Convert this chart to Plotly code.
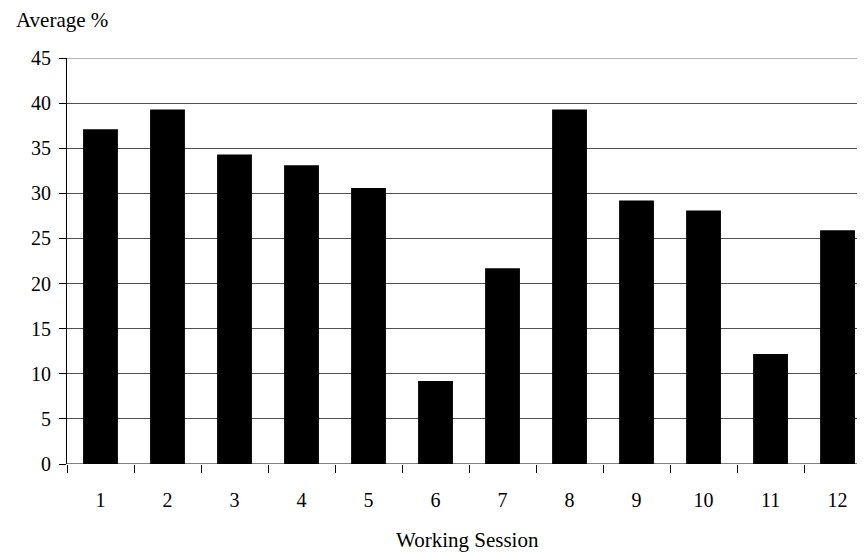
import plotly.graph_objects as go

sessions = ["1", "2", "3", "4", "5", "6", "7", "8", "9", "10", "11", "12"]
average_pct = [37.1, 39.3, 34.3, 33.1, 30.6, 9.2, 21.7, 39.3, 29.2, 28.1, 12.2, 25.9]
y_ticks = [0, 5, 10, 15, 20, 25, 30, 35, 40, 45]

FONT = "Liberation Serif, Times New Roman, serif"

fig = go.Figure()
fig.add_trace(go.Bar(
    x=sessions, y=average_pct,
    marker=dict(color="black", line=dict(width=0)),
    width=0.52,
))

# page body has an 8px default margin: compensate so the plot area sits at x 67..865, y 58..464
fig.update_layout(
    width=857, height=545,
    margin=dict(l=59, r=0, t=50, b=89),
    paper_bgcolor="white", plot_bgcolor="white",
    showlegend=False,
    font=dict(family=FONT, color="black", size=20),
    xaxis=dict(
        type="category",
        range=[-0.5, 11.41],
        tickson="boundaries",
        ticks="outside", ticklen=8, tickcolor="black", tickwidth=1,
        showgrid=False, showline=False, zeroline=False,
        ticklabelstandoff=22,
        tickfont=dict(family=FONT, size=20),
    ),
    yaxis=dict(
        range=[0, 45],
        tickvals=y_ticks,
        ticks="outside", ticklen=7, tickcolor="black", tickwidth=1,
        showgrid=True, gridcolor="#505050", gridwidth=1,
        showline=True, linecolor="black", linewidth=1,
        zeroline=False,
        ticklabelstandoff=4,
        tickfont=dict(family=FONT, size=20),
    ),
)

fig.add_shape(type="line", xref="paper", yref="y", x0=0, x1=1, y0=0, y1=0,
              line=dict(color="black", width=1), layer="above")
fig.add_shape(type="line", xref="paper", yref="y", x0=0, x1=1, y0=45, y1=45,
              line=dict(color="#a0a0a0", width=1.5), layer="above")

fig.add_annotation(text="Average %", xref="paper", yref="paper",
                   x=(14 - 67) / 798, y=1 + (58 - 20) / 406,
                   xanchor="left", yanchor="middle", showarrow=False,
                   font=dict(family=FONT, size=21))
fig.add_annotation(text="Working Session", xref="paper", yref="paper",
                   x=(467 - 67) / 798, y=-(540 - 464) / 406,
                   xanchor="center", yanchor="middle", showarrow=False,
                   font=dict(family=FONT, size=21))

fig.write_html("out.html")
